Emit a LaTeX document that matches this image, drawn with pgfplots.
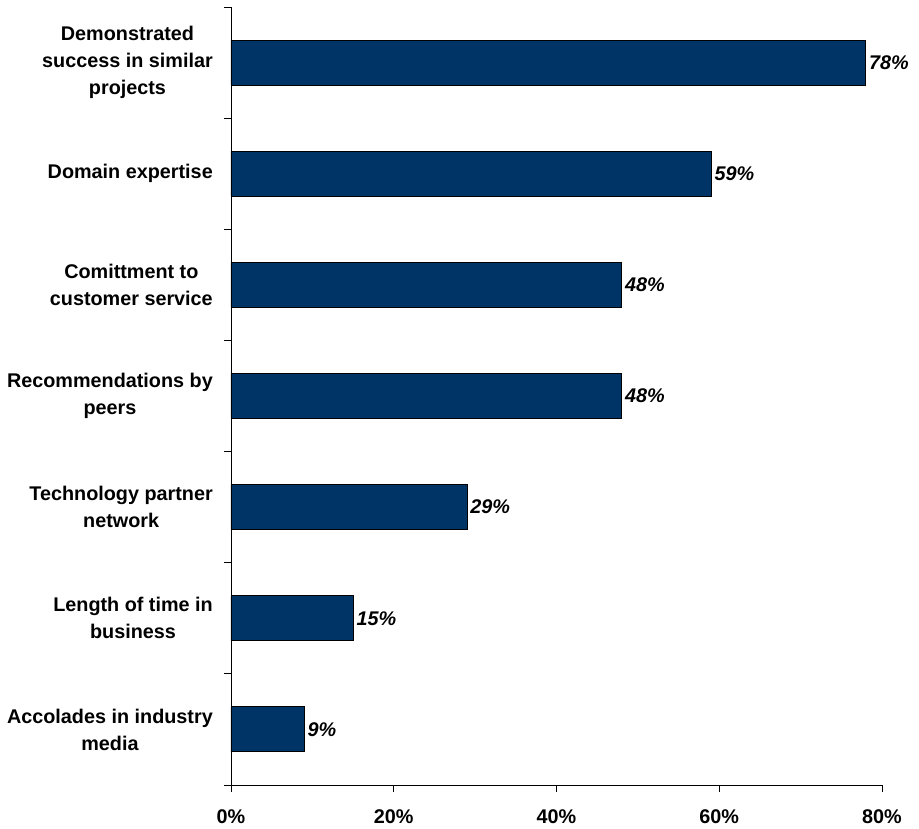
\documentclass[border=0pt]{standalone}
\usepackage{pgfplots}
\pgfplotsset{compat=1.18}
\usepackage{fontspec}
\setmainfont{Liberation Sans}
\definecolor{barblue}{RGB}{0,51,102}
\begin{document}
\begin{tikzpicture}
\path (-231pt,-44pt) rectangle (688pt,785pt);
\begin{axis}[
  at={(0pt,0pt)}, anchor=south west,
  scale only axis,
  width=651pt, height=778pt,
  xbar, bar width=45pt,
  xmin=0, xmax=80,
  ymin=-0.5, ymax=6.5,
  axis x line=bottom, axis y line=left,
  axis line style={-, line width=0.8pt, black},
  tick align=outside,
  major tick length=7pt, minor tick length=7pt,
  xtick={0,20,40,60,80},
  xticklabels={0\%,20\%,40\%,60\%,80\%},
  xticklabel style={font=\fontsize{19.8}{23}\selectfont\bfseries, inner sep=0pt, yshift=-17pt},
  x tick style={line width=0.8pt, black},
  ytick={0,1,2,3,4,5,6},
  yticklabels={{Accolades in industry\\media},{Length of time in\\business},{Technology partner\\network},{Recommendations by\\peers},{Comittment to\\customer service},{Domain expertise},{Demonstrated\\success in similar\\projects}},
  yticklabel style={font=\fontsize{19.8}{27}\selectfont\bfseries, align=center, inner sep=0pt, xshift=-11pt},
  major y tick style={draw=none},
  minor ytick={-0.5,0.5,1.5,2.5,3.5,4.5,5.5,6.5},
  minor y tick style={line width=0.8pt, black},
  nodes near coords={\pgfmathprintnumber[assume math mode=true]{\pgfplotspointmeta}\%},
  every node near coord/.append style={font=\fontsize{19.8}{23}\selectfont\bfseries\itshape, inner sep=1pt, xshift=2pt},
  clip=false,
]
\addplot[fill=barblue, draw=black, line width=0.9pt] coordinates {
  (9,0) (15,1) (29,2) (48,3) (48,4) (59,5) (78,6)
};
\end{axis}
\end{tikzpicture}
\end{document}
